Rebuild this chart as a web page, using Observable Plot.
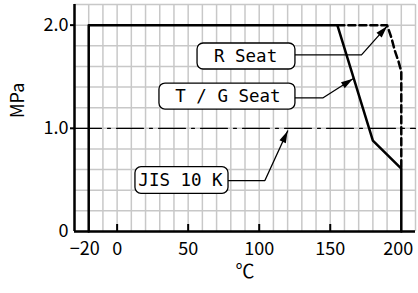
<!DOCTYPE html>
<html><head><meta charset="utf-8">
<script src="https://cdn.jsdelivr.net/npm/d3@7"></script>
<script src="https://cdn.jsdelivr.net/npm/@observablehq/plot@0.6"></script>
<style>body{margin:0;background:#fff}</style>
</head><body><div id="chart"></div>
<script>
// T / G Seat (solid), R Seat (dashed), JIS 10 K (dash-dot) — temperature (°C) vs pressure (MPa)
const tgSeatT = [-20, -20, 155, 180, 200, 200];
const tgSeatP = [0, 2.0, 2.0, 0.88, 0.61, 0];
const rSeatT = [155, 190, 193, 195.5, 198, 200, 200];
const rSeatP = [2.0, 2.0, 1.88, 1.75, 1.65, 1.55, 0.61];
const jisT = [-30, 210];
const jisP = [1.0, 1.0];

const xTickLabels = [0, 50, 100, 150];
const xInnerTicks = [0, 50, 100, 150];
const yTicks = [1, 2];

// callout annotations (data coordinates)
const labelNames = ["R Seat", "T / G Seat", "JIS 10 K"];
const labelT = [90.4, 78.0, 44.6];
const labelP = [1.70, 1.31, 0.494];
const boxT1 = [56.6, 29.8, 12.9];
const boxT2 = [125.5, 125.5, 78.4];
const boxP1 = [1.57, 1.182, 0.365];
const boxP2 = [1.822, 1.434, 0.623];
const leaderT = [[120, 172, 190], [120, 145, 166], [70, 104, 120]];
const leaderP = [[1.712, 1.712, 1.99], [1.296, 1.296, 1.48], [0.494, 0.494, 0.975]];

const tg = tgSeatT.map((t, i) => ({t, p: tgSeatP[i]}));
const rs = rSeatT.map((t, i) => ({t, p: rSeatP[i]}));
const jis = jisT.map((t, i) => ({t, p: jisP[i]}));
const boxes = labelNames.map((name, i) => ({name, t: labelT[i], p: labelP[i], t1: boxT1[i], t2: boxT2[i], p1: boxP1[i], p2: boxP2[i]}));
const leaders = labelNames.flatMap((name, i) => leaderT[i].map((t, j) => ({name, t, p: leaderP[i][j]})));

const mono = "DejaVu Sans Mono";
const sans = "Noto Sans CJK JP";
const svg = Plot.plot({
  width: 418, height: 293,
  marginLeft: 74, marginRight: 3, marginTop: 4, marginBottom: 62,
  x: {domain: [-30, 210]},
  y: {domain: [0, 2.2]},
  style: {fontFamily: sans, fontSize: "18px", color: "black", background: "white"},
  marks: [
    Plot.gridX(d3.range(-30, 211, 10), {stroke: "#c8c8c8", strokeOpacity: 1, strokeWidth: 1.5}),
    Plot.gridY(d3.range(0, 12).map(i => i / 5), {stroke: "#c8c8c8", strokeOpacity: 1, strokeWidth: 1.5}),
    Plot.line(jis, {x: "t", y: "p", stroke: "black", strokeWidth: 1.2, strokeDasharray: "27,6,3,6"}),
    Plot.line(rs, {x: "t", y: "p", stroke: "black", strokeWidth: 2.5, strokeDasharray: "7,4"}),
    Plot.line(tg, {x: "t", y: "p", stroke: "black", strokeWidth: 2.5}),
    Plot.tickX(xInnerTicks, {x: d => d, insetTop: 220, stroke: "black", strokeWidth: 2}),
    Plot.ruleX([-30], {stroke: "black", strokeWidth: 2.5}),
    Plot.ruleY([0], {stroke: "black", strokeWidth: 2.5}),
    Plot.axisY(yTicks, {tickSize: 4, tickPadding: 2, strokeWidth: 2, tickFormat: d => d.toFixed(1), fontSize: 18, label: null}),
    Plot.axisY([0], {tickSize: 0, tickPadding: 6, tickFormat: d => "0", fontSize: 18, label: null}),
    Plot.axisX(xTickLabels, {tickSize: 0, tickPadding: 11, fontSize: 18, label: null}),
    Plot.axisX([-20], {tickSize: 0, tickPadding: 11, dx: -4, tickFormat: d => "−20", fontSize: 18, label: null}),
    Plot.axisX([200], {tickSize: 0, tickPadding: 11, dx: -3, fontSize: 18, label: null}),
    Plot.text(["MPa"], {frameAnchor: "left", dx: -56, rotate: -90, fontSize: 18}),
    Plot.text(["℃"], {frameAnchor: "bottom", dy: 46, fontSize: 19}),
    Plot.line(leaders, {x: "t", y: "p", z: "name", stroke: "black", strokeWidth: 1.3, markerEnd: "arrow"}),
    Plot.rect(boxes, {x1: "t1", x2: "t2", y1: "p1", y2: "p2", rx: 6, fill: "white", stroke: "black", strokeWidth: 1.3}),
    Plot.text(boxes, {x: "t", y: "p", text: "name", fontSize: 17.5, fontFamily: mono})
  ]
});
svg.querySelectorAll("marker").forEach(m => {
  m.setAttribute("markerUnits", "userSpaceOnUse");
  m.setAttribute("viewBox", "-13 -6 14 12");
  m.setAttribute("markerWidth", "14");
  m.setAttribute("markerHeight", "12");
  m.setAttribute("fill", "black");
  m.setAttribute("stroke", "none");
  const p = m.querySelector("path");
  if (p) p.setAttribute("d", "M-12,-3.5L0,0L-12,3.5Z");
});
document.getElementById("chart").append(svg);
</script>
</body></html>
